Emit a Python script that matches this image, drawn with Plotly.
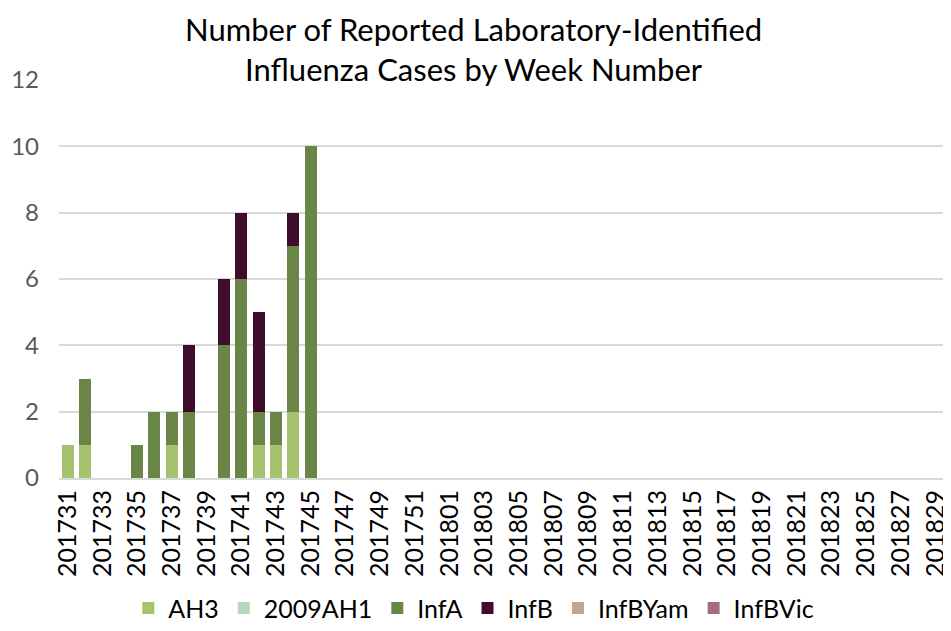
import plotly.graph_objects as go

# weeks 201731..201752 then 201801..201830
weeks = [str(201700 + w) for w in range(31, 53)] + [str(201800 + w) for w in range(1, 31)]

# case counts per week (zero elsewhere)
ah3 = {"201731": 1, "201732": 1, "201737": 1, "201742": 1, "201743": 1, "201744": 2}
ah1_2009 = {}
inf_a = {"201732": 2, "201735": 1, "201736": 2, "201737": 1, "201738": 2, "201740": 4,
         "201741": 6, "201742": 1, "201743": 1, "201744": 5, "201745": 10}
inf_b = {"201738": 2, "201740": 2, "201741": 2, "201742": 3, "201744": 1}
inf_b_yam = {}
inf_b_vic = {}

series = [
    ("AH3", ah3, "#A5C26F"),
    ("2009AH1", ah1_2009, "#B5D8C0"),
    ("InfA", inf_a, "#6A8646"),
    ("InfB", inf_b, "#400C2B"),
    ("InfBYam", inf_b_yam, "#C2A590"),
    ("InfBVic", inf_b_vic, "#A26F7E"),
]

FONT = "Lato, 'Open Sans', sans-serif"

fig = go.Figure()
for name, vals, color in series:
    fig.add_trace(go.Bar(
        name=name,
        x=weeks,
        y=[vals.get(w, 0) for w in weeks],
        marker_color=color,
        marker_line_width=0,
    ))

# page body adds an 8px offset, so the figure is sized 943x623
fig.add_annotation(
    text="Number of Reported Laboratory-Identified<br>Influenza Cases by Week Number",
    xref="paper", yref="paper", x=0.465, y=1.078,
    xanchor="center", yanchor="middle", showarrow=False,
    font=dict(size=31, color="#000000", family=FONT),
)

fig.update_layout(
    width=943,
    height=623,
    barmode="stack",
    bargap=0.31,
    paper_bgcolor="white",
    plot_bgcolor="white",
    font=dict(family=FONT, color="#595959"),
    margin=dict(l=51, r=0, t=72, b=153, autoexpand=False),
    legend=dict(
        orientation="h", x=0.465, xanchor="center", y=-0.327, yanchor="middle",
        font=dict(size=25, color="#000000"), traceorder="normal",
        itemwidth=30,
    ),
)
fig.update_xaxes(
    type="category",
    range=[-0.5, 50.9],
    tickmode="array",
    tickvals=weeks[::2],
    ticktext=weeks[::2],
    tickangle=-90,
    tickfont=dict(size=25, color="#000000"),
    showgrid=False,
    showline=True,
    linecolor="#D9D9D9",
    linewidth=2,
    ticks="",
    automargin=False,
)
fig.update_yaxes(
    range=[0, 12],
    dtick=2,
    showgrid=True,
    gridcolor="#D9D9D9",
    gridwidth=2,
    zeroline=False,
    tickfont=dict(size=24, color="#595959"),
    ticklabelstandoff=19,
    automargin=False,
)

fig.write_html("out.html")
